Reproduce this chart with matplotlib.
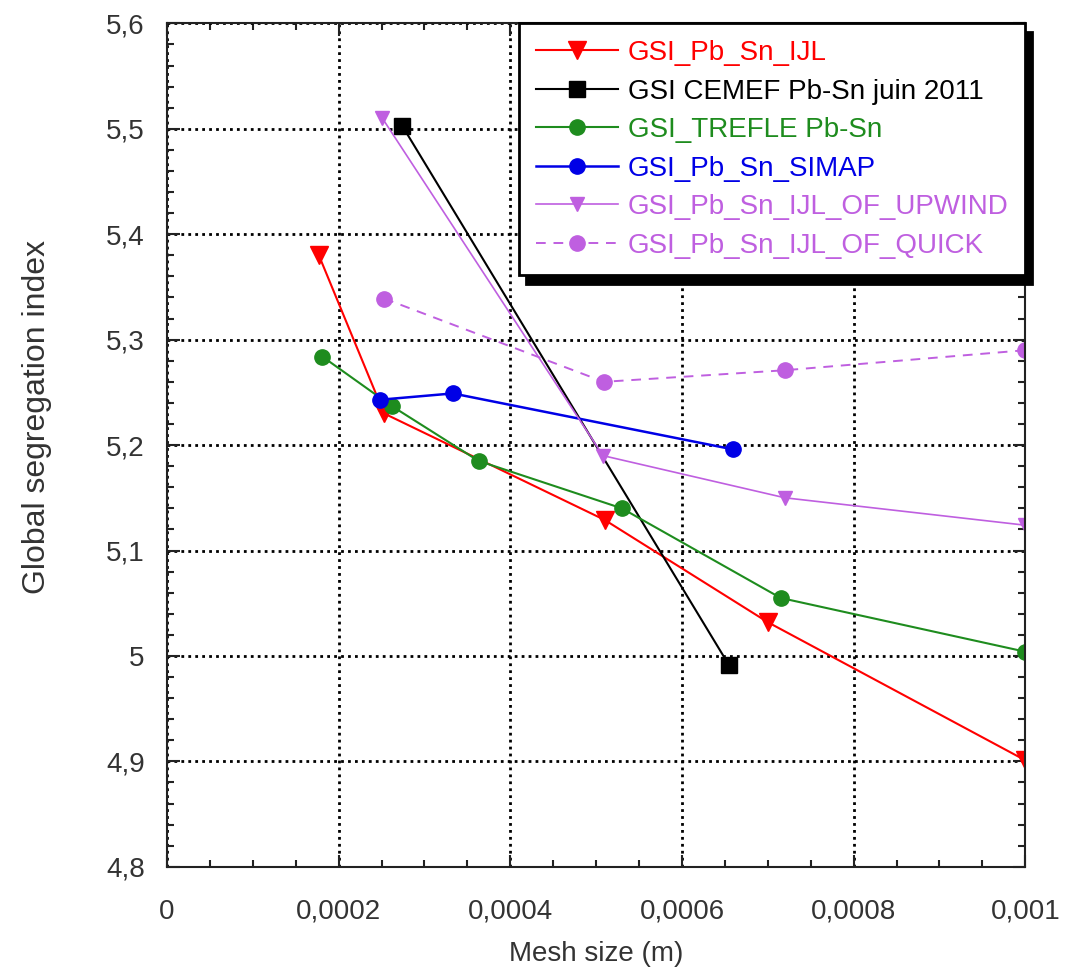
#!/usr/bin/python
# -*- coding: utf-8 -*-
import matplotlib
matplotlib.use('Agg')
import matplotlib.pyplot as plt
from matplotlib.ticker import MultipleLocator, FuncFormatter

plt.rcParams['font.family'] = ['Liberation Sans', 'DejaVu Sans']

# GSI en fonction de la taille de maille
ijl_x = [0.000177, 0.000253, 0.00051, 0.0007, 0.001]
ijl_y = [5.38, 5.23, 5.129, 5.032, 4.901]

cemef_x = [0.000274, 0.000655]
cemef_y = [5.503, 4.991]

trefle_x = [0.000181, 0.000262, 0.000363, 0.00053, 0.000715, 0.001]
trefle_y = [5.284, 5.237, 5.185, 5.14, 5.055, 5.004]

simap_x = [0.000248, 0.000333, 0.000659]
simap_y = [5.243, 5.249, 5.196]

upwind_x = [0.000251, 0.000508, 0.00072, 0.001]
upwind_y = [5.51, 5.19, 5.15, 5.124]

quick_x = [0.000253, 0.000509, 0.00072, 0.001]
quick_y = [5.339, 5.26, 5.271, 5.29]

labels = ['GSI_Pb_Sn_IJL', 'GSI CEMEF Pb-Sn juin 2011', 'GSI_TREFLE Pb-Sn',
          'GSI_Pb_Sn_SIMAP', 'GSI_Pb_Sn_IJL_OF_UPWIND', 'GSI_Pb_Sn_IJL_OF_QUICK']

purple = '#bf5fe0'


def virgule(v, pos):
    # separateur decimal francais
    s = ('%.4f' % v).rstrip('0').rstrip('.')
    return s.replace('.', ',')


def show():
    fig = plt.figure(figsize=(10.77, 9.75), dpi=100)
    ax = fig.add_axes([0.155, 0.111, 0.797, 0.865])

    ax.plot(ijl_x, ijl_y, color='#ff0000', lw=1.5, marker='v', ms=13, label=labels[0])
    ax.plot(cemef_x, cemef_y, color='black', lw=1.5, marker='s', ms=11, label=labels[1])
    ax.plot(trefle_x, trefle_y, color='#1e8c1e', lw=1.5, marker='o', ms=11, label=labels[2])
    ax.plot(simap_x, simap_y, color='#0000e6', lw=1.8, marker='o', ms=11, label=labels[3])
    ax.plot(upwind_x, upwind_y, color=purple, lw=1.2, marker='v', ms=10, label=labels[4])
    ax.plot(quick_x, quick_y, color=purple, lw=1.4, dashes=(5, 4), marker='o', ms=11,
            label=labels[5])

    ax.set_xlim(0, 0.001)
    ax.set_ylim(4.8, 5.6)
    ax.xaxis.set_major_locator(MultipleLocator(0.0002))
    ax.xaxis.set_minor_locator(MultipleLocator(0.00005))
    ax.yaxis.set_major_locator(MultipleLocator(0.1))
    ax.yaxis.set_minor_locator(MultipleLocator(0.02))
    ax.xaxis.set_major_formatter(FuncFormatter(virgule))
    ax.yaxis.set_major_formatter(FuncFormatter(virgule))

    ax.tick_params(which='both', direction='in', top=True, right=True, width=1.5,
                   colors='#222222')
    ax.tick_params(which='major', length=9)
    ax.tick_params(which='minor', length=5)
    ax.tick_params(axis='x', which='major', pad=23, labelsize=20, labelcolor='#333333')
    ax.tick_params(axis='y', which='major', pad=16, labelsize=20, labelcolor='#333333')
    for sp in ax.spines.values():
        sp.set_linewidth(1.5)
        sp.set_color('#222222')

    ax.grid(True, which='major', color='black', lw=2, linestyle=(0, (1, 1.5)))

    ax.set_xlabel('Mesh size (m)', fontsize=20, color='#333333', labelpad=12)
    ax.set_ylabel('Global segregation index', fontsize=23, color='#333333')
    ax.yaxis.set_label_coords(-0.134, 0.533)

    leg = ax.legend(loc='upper right', bbox_to_anchor=(1.0, 1.0), borderaxespad=0,
                    fontsize=20, labelcolor='linecolor', handlelength=2.95,
                    handletextpad=0.36, labelspacing=0.45, borderpad=0.6,
                    fancybox=False, framealpha=1,
                    shadow={'ox': 5, 'oy': -6, 'color': 'black', 'alpha': 1})
    leg.get_frame().set_edgecolor('black')
    leg.get_frame().set_linewidth(2)

    fig.savefig('out.png', dpi=100)


if __name__ == '__main__':
    show()
